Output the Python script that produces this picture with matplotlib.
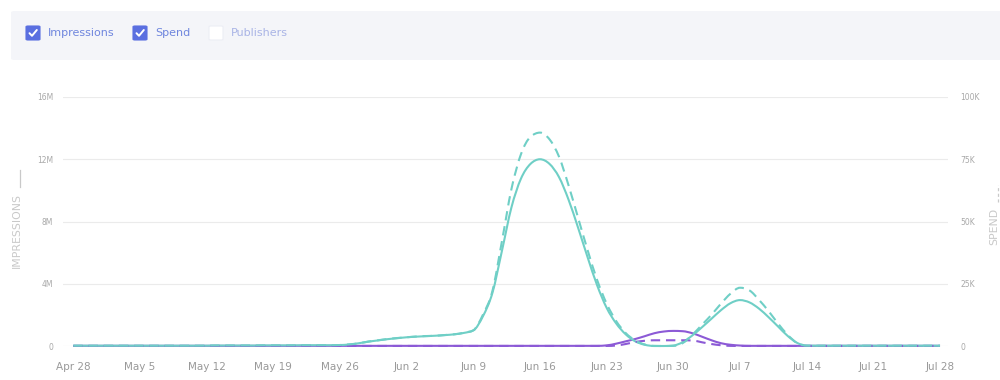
import numpy as np
import matplotlib
matplotlib.use("Agg")
import matplotlib.pyplot as plt
from matplotlib.path import Path
from matplotlib.patches import PathPatch, FancyBboxPatch
from matplotlib.lines import Line2D

# ---------------- data ----------------
tick_labels = ["Apr 28", "May 5", "May 12", "May 19", "May 26", "Jun 2", "Jun 9",
               "Jun 16", "Jun 23", "Jun 30", "Jul 7", "Jul 14", "Jul 21", "Jul 28"]
imp_ticks = [0, 4, 8, 12, 16]
imp_tick_labels = ["0", "4M", "8M", "12M", "16M"]
spend_ticks = [0, 25, 50, 75, 100]
spend_tick_labels = ["0", "25K", "50K", "75K", "100K"]

# daily values, Apr 28 .. Jul 28 (92 days)
teal_impressions_m = [
    0.02, 0.02, 0.02, 0.02, 0.02, 0.02, 0.02, 0.02, 0.02, 0.02, 0.02, 0.02, 0.02, 0.02,
    0.02, 0.03, 0.03, 0.03, 0.03, 0.03, 0.04, 0.04, 0.04, 0.04, 0.05, 0.05, 0.05, 0.05,
    0.06, 0.10, 0.18, 0.28, 0.36, 0.44, 0.50, 0.56, 0.60, 0.63, 0.66, 0.70, 0.75, 0.84,
    1.00, 1.90, 3.40, 6.10, 8.90, 10.75, 11.7, 12.0, 11.7, 10.85, 9.40, 7.60, 5.70, 3.90,
    2.45, 1.45, 0.75, 0.30, 0.08, 0.00, 0.00, 0.03, 0.25, 0.68, 1.20, 1.75, 2.30, 2.75,
    2.95, 2.80, 2.40, 1.85, 1.25, 0.65, 0.20, 0.03, 0.02, 0.02, 0.02, 0.02, 0.02, 0.02,
    0.02, 0.02, 0.02, 0.02, 0.02, 0.02, 0.02, 0.02]
teal_spend_k = [
    0.10, 0.10, 0.10, 0.10, 0.10, 0.10, 0.10, 0.10, 0.10, 0.10, 0.10, 0.10, 0.10, 0.10,
    0.15, 0.20, 0.20, 0.20, 0.20, 0.20, 0.25, 0.25, 0.25, 0.25, 0.30, 0.30, 0.30, 0.30,
    0.40, 0.65, 1.10, 1.80, 2.30, 2.80, 3.20, 3.50, 3.80, 4.00, 4.10, 4.40, 4.70, 5.30,
    6.30, 12.5, 22.0, 42.0, 63.0, 77.0, 84.0, 85.7, 83.0, 76.0, 64.5, 51.5, 38.5, 26.5,
    17.0, 10.0, 5.20, 2.20, 0.60, 0.05, 0.00, 0.05, 1.20, 4.50, 8.50, 12.5, 17.0, 21.0,
    23.4, 22.3, 18.5, 14.0, 9.00, 4.50, 1.20, 0.10, 0.10, 0.10, 0.10, 0.10, 0.10, 0.10,
    0.10, 0.10, 0.10, 0.10, 0.10, 0.10, 0.10, 0.10]
purple_impressions_m = [
    0.01, 0.01, 0.01, 0.01, 0.01, 0.01, 0.01, 0.01, 0.01, 0.01, 0.01, 0.01, 0.01, 0.01,
    0.01, 0.01, 0.01, 0.01, 0.01, 0.01, 0.01, 0.01, 0.01, 0.01, 0.01, 0.01, 0.01, 0.01,
    0.01, 0.01, 0.01, 0.01, 0.01, 0.01, 0.01, 0.01, 0.01, 0.01, 0.01, 0.01, 0.01, 0.01,
    0.01, 0.01, 0.01, 0.01, 0.01, 0.01, 0.01, 0.01, 0.01, 0.01, 0.01, 0.01, 0.01, 0.01,
    0.04, 0.15, 0.30, 0.45, 0.63, 0.82, 0.93, 0.97, 0.95, 0.82, 0.60, 0.37, 0.18, 0.08,
    0.03, 0.01, 0.01, 0.01, 0.01, 0.01, 0.01, 0.01, 0.01, 0.01, 0.01, 0.01, 0.01, 0.01,
    0.01, 0.01, 0.01, 0.01, 0.01, 0.01, 0.01, 0.01]
purple_spend_k = [
    0.02, 0.02, 0.02, 0.02, 0.02, 0.02, 0.02, 0.02, 0.02, 0.02, 0.02, 0.02, 0.02, 0.02,
    0.02, 0.02, 0.02, 0.02, 0.02, 0.02, 0.02, 0.02, 0.02, 0.02, 0.02, 0.02, 0.02, 0.02,
    0.02, 0.02, 0.02, 0.02, 0.02, 0.02, 0.02, 0.02, 0.02, 0.02, 0.02, 0.02, 0.02, 0.02,
    0.02, 0.02, 0.02, 0.02, 0.02, 0.02, 0.02, 0.02, 0.02, 0.02, 0.02, 0.02, 0.02, 0.02,
    0.02, 0.20, 0.80, 1.60, 2.10, 2.30, 2.30, 2.30, 2.30, 2.20, 1.50, 0.80, 0.30, 0.05,
    0.02, 0.02, 0.02, 0.02, 0.02, 0.02, 0.02, 0.02, 0.02, 0.02, 0.02, 0.02, 0.02, 0.02,
    0.02, 0.02, 0.02, 0.02, 0.02, 0.02, 0.02, 0.02]

TEAL = "#6fcfc6"
PURPLE = "#8c5ad6"
GRID = "#ebebeb"
TICK = "#a8a8a8"
LABEL = "#c9c9c9"


def monotone_path(x, y):
    """Smooth monotone cubic (d3 monotoneX style) path through the data points."""
    x = np.asarray(x, float)
    y = np.asarray(y, float)
    h = np.diff(x)
    s = np.diff(y) / h
    t = np.zeros_like(y)
    for i in range(1, len(y) - 1):
        p = (s[i - 1] * h[i] + s[i] * h[i - 1]) / (h[i - 1] + h[i])
        t[i] = (np.sign(s[i - 1]) + np.sign(s[i])) * min(abs(s[i - 1]), abs(s[i]), 0.5 * abs(p))
    t[0] = s[0]
    t[-1] = s[-1]
    verts = [(x[0], y[0])]
    codes = [Path.MOVETO]
    for i in range(len(x) - 1):
        d = h[i] / 3.0
        verts += [(x[i] + d, y[i] + t[i] * d), (x[i + 1] - d, y[i + 1] - t[i + 1] * d), (x[i + 1], y[i + 1])]
        codes += [Path.CURVE4] * 3
    return Path(verts, codes)


plt.rcParams["font.family"] = ["DejaVu Sans"]
fig = plt.figure(figsize=(10, 3.8), dpi=100)
W, H = 1000.0, 380.0

# ---------------- legend panel ----------------
panel = FancyBboxPatch((11 / W, 1 - 60 / H), 1.2, 49 / H, boxstyle="round,pad=0,rounding_size=0.004",
                       transform=fig.transFigure, facecolor="#f4f5f9", edgecolor="none", zorder=0)
fig.add_artist(panel)


def checkbox(x0, label, checked, text_color):
    y0 = 26
    size = 14
    box = FancyBboxPatch((x0 / W, 1 - (y0 + size) / H), size / W, size / H,
                         boxstyle="round,pad=0,rounding_size=0.002", transform=fig.transFigure,
                         facecolor="#5a6fe0" if checked else "#ffffff",
                         edgecolor="#5a6fe0" if checked else "#eceef5", linewidth=0.8, zorder=2)
    fig.add_artist(box)
    if checked:
        cx = [x0 + 3.5, x0 + 6.0, x0 + 10.8]
        cy = [y0 + 7.2, y0 + 9.8, y0 + 4.0]
        fig.add_artist(Line2D([c / W for c in cx], [1 - c / H for c in cy], transform=fig.transFigure,
                              color="white", linewidth=1.4, solid_capstyle="round",
                              solid_joinstyle="round", zorder=3))
    fig.text((x0 + 22) / W, 1 - (y0 + 7.5) / H, label, fontsize=8, color=text_color,
             ha="left", va="center")


checkbox(26, "Impressions", True, "#6f86de")
checkbox(133, "Spend", True, "#6f86de")
checkbox(209, "Publishers", False, "#a9b4e6")

# ---------------- axes ----------------
ax_left, ax_right = 63, 948
ax_top, ax_bottom = 97, 346
ax = fig.add_axes([ax_left / W, 1 - ax_bottom / H, (ax_right - ax_left) / W, (ax_bottom - ax_top) / H])
ax2 = ax.twinx()

days = np.arange(len(teal_impressions_m))

px_per_day = 66.67 / 7
x_first = 73.3
xmin = (ax_left - x_first) / px_per_day
xmax = (ax_right - x_first) / px_per_day
ax.set_xlim(xmin, xmax)
for a in (ax, ax2):
    for sp in a.spines.values():
        sp.set_visible(False)
    a.tick_params(length=0)
ax.set_ylim(0, 16)
ax2.set_ylim(0, 100)

ax.set_yticks(imp_ticks)
ax.set_yticklabels(imp_tick_labels, fontsize=5.5, color=TICK)
ax.tick_params(axis="y", pad=7)
ax2.set_yticks(spend_ticks)
ax2.set_yticklabels(spend_tick_labels, fontsize=5.5, color=TICK)
ax2.tick_params(axis="y", pad=9)
ax.set_xticks(np.arange(0, 92, 7))
ax.set_xticklabels(tick_labels, fontsize=7.5, color="#999999")
ax.tick_params(axis="x", pad=11.5)
ax.yaxis.grid(True, color=GRID, linewidth=0.8)
ax.set_axisbelow(True)

lw = 1.5
ax.add_patch(PathPatch(monotone_path(days, purple_impressions_m), fill=False, edgecolor=PURPLE,
                       linewidth=lw, clip_on=False, zorder=2))
ax.add_patch(PathPatch(monotone_path(days, teal_impressions_m), fill=False, edgecolor=TEAL,
                       linewidth=lw, clip_on=False, zorder=3))
ax2.add_patch(PathPatch(monotone_path(days, purple_spend_k), fill=False, edgecolor=PURPLE,
                        linewidth=lw, linestyle=(0, (4.5, 2.8)), clip_on=False, zorder=2))
ax2.add_patch(PathPatch(monotone_path(days, teal_spend_k), fill=False, edgecolor=TEAL,
                        linewidth=lw, linestyle=(0, (4.5, 2.8)), clip_on=False, zorder=3))

# ---------------- axis titles ----------------
fig.text(16.5 / W, 1 - 230 / H, "IMPRESSIONS", rotation=90, fontsize=7.8, color=LABEL,
         ha="center", va="center")
fig.add_artist(Line2D([20 / W, 20 / W], [1 - 187 / H, 1 - 170 / H], transform=fig.transFigure,
                      color=LABEL, linewidth=0.9))
fig.text(994 / W, 1 - 226 / H, "SPEND", rotation=90, fontsize=7.8, color=LABEL,
         ha="center", va="center")
fig.add_artist(Line2D([997.5 / W, 997.5 / W], [1 - 202 / H, 1 - 185 / H], transform=fig.transFigure,
                      color=LABEL, linewidth=0.9, linestyle=(0, (2.5, 2))))

fig.savefig("out.png", dpi=100, facecolor="white")
